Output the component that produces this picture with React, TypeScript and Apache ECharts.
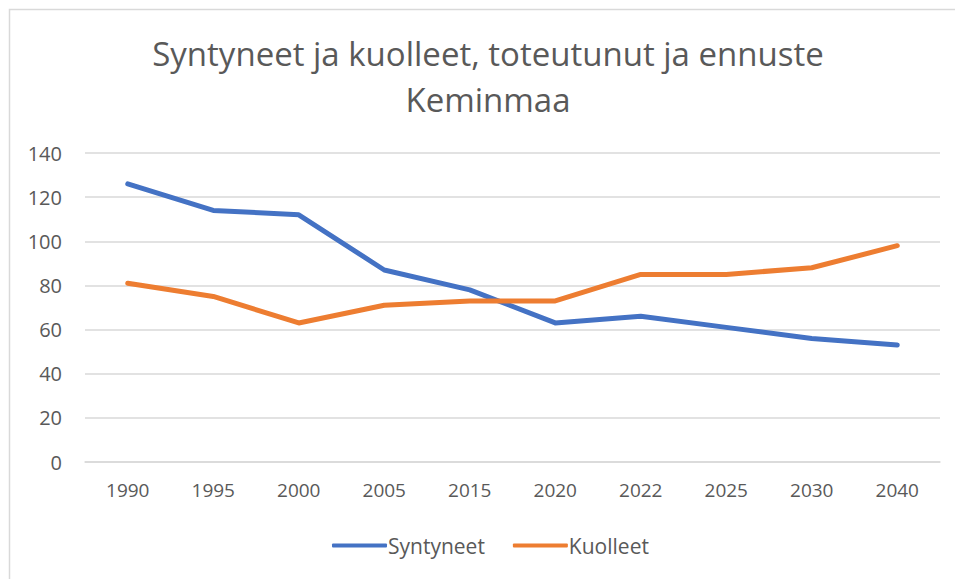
import React, { useEffect, useRef } from "react";
import * as echarts from "echarts";

const categories = ["1990", "1995", "2000", "2005", "2015", "2020", "2022", "2025", "2030", "2040"];
const syntyneet = [126, 114, 112, 87, 78, 63, 66, 61, 56, 53];
const kuolleet = [81, 75, 63, 71, 73, 73, 85, 85, 88, 98];
const seriesNames = ["Syntyneet", "Kuolleet"];
const titleText = "Syntyneet ja kuolleet, toteutunut ja ennuste\nKeminmaa";

const FONT = "'Open Sans', 'Noto Sans', sans-serif";
const TEXT = "#595959";

export default function App() {
  const ref = useRef<HTMLDivElement>(null);
  useEffect(() => {
    document.body.style.margin = "0";
    const chart = echarts.init(ref.current!, null, { renderer: "svg" });
    chart.setOption({
      animation: false,
      backgroundColor: "#ffffff",
      graphic: [
        {
          type: "rect",
          shape: { x: 9.5, y: 9.5, width: 1000, height: 1000 },
          style: { fill: "none", stroke: "#d9d9d9", lineWidth: 1.5 },
          silent: true,
        },
      ],
      title: {
        text: titleText,
        left: 483,
        top: 25,
        textAlign: "center",
        textStyle: { fontFamily: FONT, fontSize: 33, fontWeight: "normal", color: TEXT, lineHeight: 46 },
      },
      legend: {
        bottom: 18,
        left: 327,
        itemWidth: 55,
        itemHeight: 4,
        itemGap: 28,
        icon: "roundRect",
        textStyle: { fontFamily: FONT, fontSize: 21, color: TEXT, padding: [0, 0, 0, -4] },
        data: seriesNames,
      },
      grid: { left: 85, right: 15, top: 153, bottom: 117, containLabel: false },
      xAxis: {
        type: "category",
        data: categories,
        boundaryGap: true,
        axisLine: { lineStyle: { color: "#d9d9d9", width: 1.5 } },
        axisTick: { show: false },
        axisLabel: { fontFamily: FONT, fontSize: 19, color: TEXT, margin: 18 },
      },
      yAxis: {
        type: "value",
        min: 0,
        max: 140,
        interval: 20,
        axisLine: { show: false },
        axisTick: { show: false },
        splitLine: { lineStyle: { color: "#d9d9d9", width: 1.5 } },
        axisLabel: { fontFamily: FONT, fontSize: 20, color: TEXT, margin: 23 },
      },
      series: [
        {
          name: seriesNames[0],
          type: "line",
          data: syntyneet,
          symbol: "none",
          lineStyle: { color: "#4472C4", width: 5, cap: "round", join: "round" },
          itemStyle: { color: "#4472C4" },
        },
        {
          name: seriesNames[1],
          type: "line",
          data: kuolleet,
          symbol: "none",
          lineStyle: { color: "#ED7D31", width: 5, cap: "round", join: "round" },
          itemStyle: { color: "#ED7D31" },
        },
      ],
    });
    return () => chart.dispose();
  }, []);
  return <div ref={ref} style={{ width: 955, height: 579 }} />;
}
